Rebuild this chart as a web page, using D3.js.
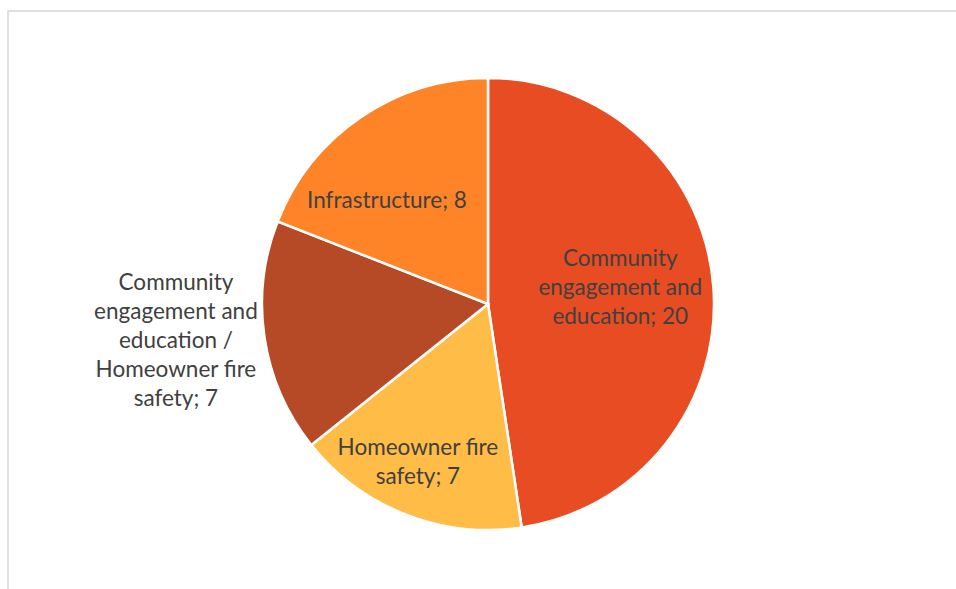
<!DOCTYPE html>
<html>
<head>
<meta charset="utf-8">
<script src="https://cdn.jsdelivr.net/npm/d3@7"></script>
<style>
  html, body { margin: 0; padding: 0; background: #fff; }
  svg { display: block; }
</style>
</head>
<body>
<div id="chart"></div>
<script>
'use strict';
// chart data
var categories = [
    "Community engagement and education",
    "Homeowner fire safety",
    "Community engagement and education / Homeowner fire safety",
    "Infrastructure"
];
var values = [20, 7, 7, 8];
var colors = ["#E84C22", "#FFBD47", "#B64926", "#FF8427"];

var width = 956, height = 589;
var cx = 488, cy = 304, radius = 226;
var fontSize = 22.5, lineHeight = 29, wrapWidth = 180;

// where each label sits: fraction of radius and angle nudge (deg)
var labelPlace = [[0.59, -3], [0.765, 2.5], [1.39, 2], [0.64, -10]];

var svg = d3.select("#chart").append("svg")
    .attr("width", width)
    .attr("height", height);

// chart area border (runs off the right and bottom edges)
svg.append("rect")
    .attr("x", 8).attr("y", 11)
    .attr("width", width + 20).attr("height", height + 20)
    .attr("fill", "none")
    .attr("stroke", "#D9D9D9")
    .attr("stroke-width", 1.6);

var data = categories.map(function (c, i) { return { name: c, value: values[i], i: i }; });

var pie = d3.pie()
    .sort(null)
    .value(function (d) { return d.value; });

var arc = d3.arc()
    .innerRadius(0)
    .outerRadius(radius);

var g = svg.append("g")
    .attr("transform", "translate(" + cx + "," + cy + ")");

var arcs = pie(data);

g.selectAll(".slice")
    .data(arcs)
    .enter().append("path")
    .attr("class", "slice")
    .attr("d", arc)
    .attr("fill", function (d) { return colors[d.data.i]; })
    .attr("stroke", "#fff")
    .attr("stroke-width", 2.5)
    .attr("stroke-linejoin", "miter");

// labels
var labels = g.selectAll(".lbl")
    .data(arcs)
    .enter().append("text")
    .attr("class", "lbl")
    .attr("text-anchor", "middle")
    .attr("font-family", "Lato, 'Open Sans', sans-serif")
    .attr("font-size", fontSize)
    .attr("fill", "#404040");

labels.each(function (d) {
    var t = d3.select(this);
    var text = d.data.name + "; " + d.data.value;
    var words = text.split(" ");
    // greedy wrap
    var lines = [], cur = "";
    var probe = t.append("tspan");
    words.forEach(function (w) {
        var test = cur ? cur + " " + w : w;
        probe.text(test);
        if (cur && probe.node().getComputedTextLength() > wrapWidth) {
            lines.push(cur);
            cur = w;
        } else {
            cur = test;
        }
    });
    lines.push(cur);
    probe.remove();

    var p = labelPlace[d.data.i];
    var a = (d.startAngle + d.endAngle) / 2 + p[1] * Math.PI / 180;
    var r = radius * p[0];
    var x = r * Math.sin(a), y = -r * Math.cos(a);
    var y0 = y - (lines.length - 1) * lineHeight / 2;
    lines.forEach(function (ln, k) {
        t.append("tspan")
            .attr("x", x)
            .attr("y", y0 + k * lineHeight)
            .attr("dy", "0.35em")
            .text(ln);
    });
});
</script>
</body>
</html>
